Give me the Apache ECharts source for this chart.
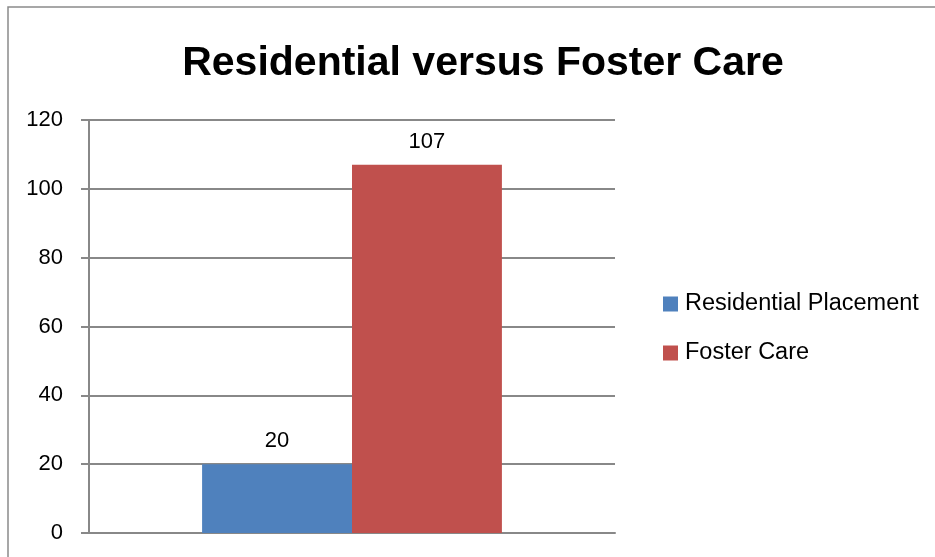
<!DOCTYPE html>
<html>
<head>
<meta charset="utf-8">
<style>html,body{margin:0;padding:0;background:#fff;}#c{width:935px;height:557px;}</style>
<script src="https://cdn.jsdelivr.net/npm/echarts@6/dist/echarts.min.js"></script>
</head>
<body>
<div id="c"></div>
<script>
const titleText = 'Residential versus Foster Care';
const categories = [''];
const seriesNames = ['Residential Placement', 'Foster Care'];
const residentialValues = [20];
const fosterValues = [107];
const seriesColors = ['#4f81bd', '#c0504d'];
const yMin = 0, yMax = 120, yInterval = 20;

const chart = echarts.init(document.getElementById('c'), null, {renderer: 'canvas'});
const font = '"Liberation Sans", Arial, sans-serif';
const labelStyle = {show: true, position: 'top', distance: 12, color: '#000', fontSize: 22, fontFamily: font};
chart.setOption({
  animation: false,
  backgroundColor: '#fff',
  title: {
    text: titleText, left: 478, top: 38, textAlign: 'center',
    textStyle: {fontSize: 41, fontWeight: 'bold', color: '#000', fontFamily: font}
  },
  graphic: [{
    type: 'rect', shape: {x: 8, y: 7, width: 1000, height: 700},
    style: {fill: 'none', stroke: '#8a8a8a', lineWidth: 1.5}, silent: true
  }],
  legend: {
    orient: 'vertical', left: 658, top: 287, itemGap: 25,
    itemWidth: 15, itemHeight: 15, icon: 'rect',
    textStyle: {fontSize: 23.5, color: '#000', fontFamily: font, padding: [0, 0, 0, 2]},
    data: seriesNames
  },
  grid: {left: 89, right: 320, top: 120, bottom: 24, containLabel: false},
  xAxis: {
    type: 'category', data: categories,
    axisLine: {show: true, lineStyle: {color: '#888', width: 2}},
    axisTick: {show: false}, axisLabel: {show: false}
  },
  yAxis: {
    type: 'value', min: yMin, max: yMax, interval: yInterval,
    axisLine: {show: true, lineStyle: {color: '#888', width: 2}},
    axisTick: {show: true, length: 8, lineStyle: {color: '#888', width: 2}},
    axisLabel: {color: '#000', fontSize: 22, fontFamily: font, margin: 26, padding: [6, 0, 0, 0]},
    splitLine: {show: true, lineStyle: {color: '#888', width: 2}}
  },
  series: [
    {name: seriesNames[0], type: 'bar', data: residentialValues, barGap: '0%', barCategoryGap: '43%',
     itemStyle: {color: seriesColors[0]}, label: labelStyle},
    {name: seriesNames[1], type: 'bar', data: fosterValues, barGap: '0%', barCategoryGap: '43%',
     itemStyle: {color: seriesColors[1]}, label: labelStyle}
  ]
});
</script>
</body>
</html>
